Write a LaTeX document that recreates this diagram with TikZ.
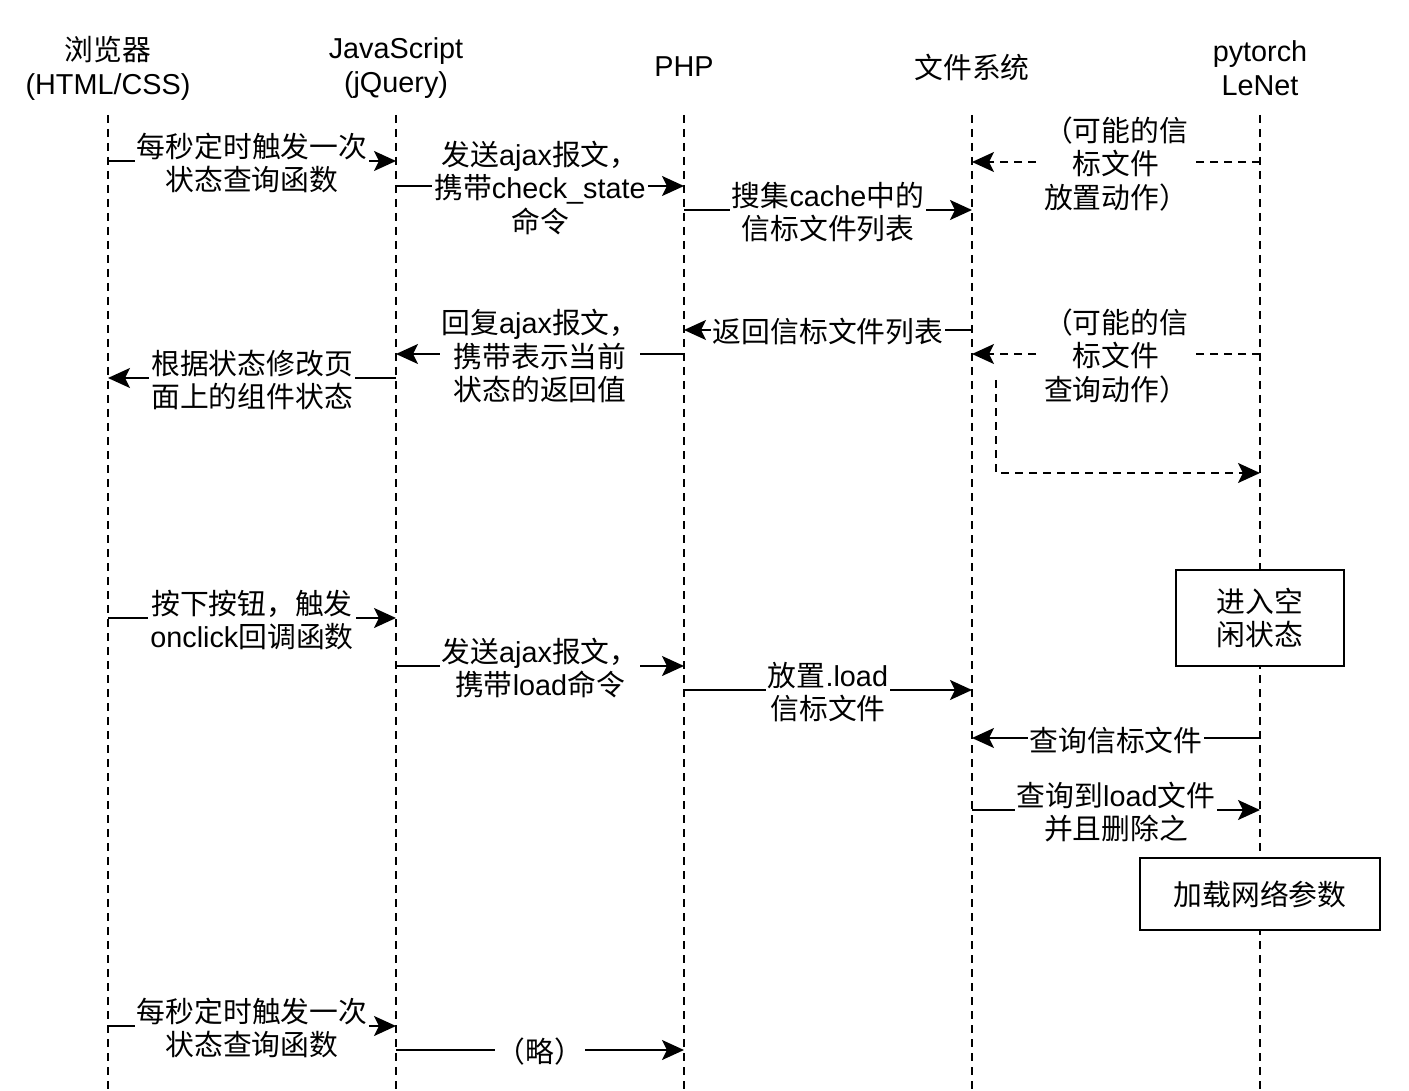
\documentclass[tikz,border=0pt]{standalone}
\usepackage{fontspec}
\setmainfont{Noto Sans CJK SC}
\newfontfamily\latfamily{Liberation Sans}
\newcommand\lat[1]{{\latfamily #1}}
\usetikzlibrary{arrows.meta}
\newcommand\lblfont{\fontsize{14.4}{16.9}\selectfont}
\begin{document}
\begin{tikzpicture}[x=0.5pt,y=-0.5pt,
  every node/.style={font=\lblfont, align=center},
  lifeline/.style={line width=1pt, dash pattern=on 4pt off 3pt},
  msg/.style={line width=1pt, -{Stealth[length=11pt,width=10pt,inset=2.5pt]}},
  dmsg/.style={msg, dash pattern=on 4pt off 3pt},
  lbl/.style={fill=white, inner sep=1pt, yshift=-1pt},
  actbox/.style={draw, fill=white, line width=1pt, inner sep=0pt}]
\useasboundingbox (0,0) rectangle (1409,1091);

% participants
\node (h1) at (108,68) {浏览器\\\lat{(HTML/CSS)}};
\node (h2) at (396,68) {\lat{JavaScript}\\\lat{(jQuery)}};
\node (h3) at (684,67) {\lat{PHP}};
\node (h4) at (972,67) {文件系统};
\node (h5) at (1260,68) {\lat{pytorch}\\\lat{LeNet}};

% lifelines
\coordinate (L1) at (108,115);
\coordinate (L2) at (396,115);
\coordinate (L3) at (684,115);
\coordinate (L4) at (972,115);
\coordinate (L5) at (1260,115);
\foreach \i in {1,...,5}
  \draw[lifeline] (L\i) -- (L\i |- 0,1091);

% status polling
\draw[msg] (L1 |- 0,161) -- node[lbl]{每秒定时触发一次\\状态查询函数} (L2 |- 0,161);
\draw[msg] (L2 |- 0,186) -- node[lbl]{发送\lat{ajax}报文，\\携带\lat{check\_state}\\命令} (L3 |- 0,186);
\draw[msg] (L3 |- 0,210) -- node[lbl]{搜集\lat{cache}中的\\信标文件列表} (L4 |- 0,210);
\draw[dmsg] (L5 |- 0,162) -- node[lbl]{（可能的信\\标文件\\放置动作）} (L4 |- 0,162);
\draw[msg] (L4 |- 0,330) -- node[lbl]{返回信标文件列表} (L3 |- 0,330);
\draw[msg] (L3 |- 0,354) -- node[lbl]{回复\lat{ajax}报文，\\携带表示当前\\状态的返回值} (L2 |- 0,354);
\draw[msg] (L2 |- 0,378) -- node[lbl]{根据状态修改页\\面上的组件状态} (L1 |- 0,378);
\draw[dmsg] (L5 |- 0,354) -- node[lbl]{（可能的信\\标文件\\查询动作）} (L4 |- 0,354);
\coordinate (q0) at (996,380);
\draw[dmsg] (q0) |- (L5 |- 0,473);

% load request
\node[actbox, minimum width=84pt, minimum height=48pt] (idle) at (1260,618) {进入空\\闲状态};
\draw[msg] (L1 |- 0,618) -- node[lbl]{按下按钮，触发\\\lat{onclick}回调函数} (L2 |- 0,618);
\draw[msg] (L2 |- 0,666) -- node[lbl]{发送\lat{ajax}报文，\\携带\lat{load}命令} (L3 |- 0,666);
\draw[msg] (L3 |- 0,690) -- node[lbl]{放置\lat{.load}\\信标文件} (L4 |- 0,690);
\draw[msg] (L5 |- 0,738) -- node[lbl]{查询信标文件} (L4 |- 0,738);
\draw[msg] (L4 |- 0,810) -- node[lbl]{查询到\lat{load}文件\\并且删除之} (L5 |- 0,810);
\node[actbox, minimum width=120pt, minimum height=36pt] (loadnet) at (1260,894) {加载网络参数};

% next poll
\draw[msg] (L1 |- 0,1026) -- node[lbl]{每秒定时触发一次\\状态查询函数} (L2 |- 0,1026);
\draw[msg] (L2 |- 0,1050) -- node[lbl]{（略）} (L3 |- 0,1050);
\end{tikzpicture}
\end{document}
